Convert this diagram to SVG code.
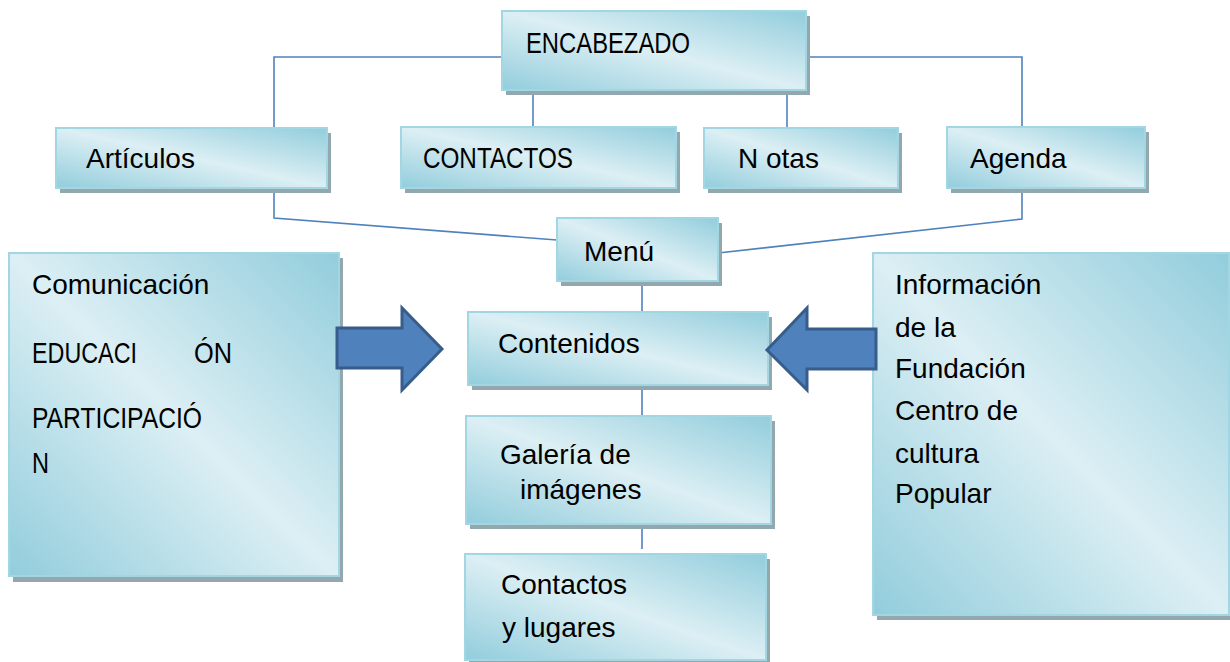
<svg xmlns="http://www.w3.org/2000/svg" width="1230" height="662" viewBox="0 0 1230 662">
<defs>
<linearGradient id="g" x1="1" y1="0" x2="0" y2="1">
<stop offset="0" stop-color="#92CDDC"/>
<stop offset="0.5" stop-color="#DCEFF4"/>
<stop offset="1" stop-color="#92CDDC"/>
</linearGradient>
<style>
.sh{fill:#93A7AE}
.bx{fill:url(#g);stroke:#A3D6E3;stroke-width:2}
.t{font-family:"Liberation Sans",Arial,sans-serif;font-size:28px;fill:#000}
.k{font-size:30px}
.c{fill:none;stroke:#4F81BD;stroke-width:1.6}
.ar{fill:#4F81BD;stroke:#385D8A;stroke-width:3;stroke-linejoin:miter}
</style>
</defs>
<rect width="1230" height="662" fill="#fff"/>
<g id="connectors">
<polyline class="c" points="502,57 274,57 274,128"/>
<polyline class="c" points="806,57 1022,57 1022,127"/>
<line class="c" x1="533" y1="90" x2="533" y2="127"/>
<line class="c" x1="787" y1="90" x2="787" y2="128"/>
<polyline class="c" points="274,188 274,218 557,240"/>
<polyline class="c" points="1022,188 1022,219 718,253"/>
<line class="c" x1="642" y1="281" x2="642" y2="312"/>
<line class="c" x1="642" y1="385" x2="642" y2="416"/>
<line class="c" x1="642" y1="524" x2="642" y2="549"/>
</g>
<g id="encabezado">
<rect class="sh" x="506" y="16" width="304" height="79"/>
<rect class="bx" x="502" y="11" width="304" height="79"/>
<text class="t k" x="526" y="53" textLength="164" lengthAdjust="spacingAndGlyphs">ENCABEZADO</text>
</g>
<g id="articulos">
<rect class="sh" x="60" y="133" width="271" height="60"/>
<rect class="bx" x="56" y="128" width="271" height="60"/>
<text class="t" x="86" y="168">Artículos</text>
</g>
<g id="contactos-top">
<rect class="sh" x="405" y="132" width="275" height="61"/>
<rect class="bx" x="401" y="127" width="275" height="61"/>
<text class="t k" x="423" y="168" textLength="150" lengthAdjust="spacingAndGlyphs">CONTACTOS</text>
</g>
<g id="notas">
<rect class="sh" x="708" y="133" width="194" height="60"/>
<rect class="bx" x="704" y="128" width="194" height="60"/>
<text class="t" x="738" y="168">N otas</text>
</g>
<g id="agenda">
<rect class="sh" x="951" y="132" width="198" height="61"/>
<rect class="bx" x="947" y="127" width="198" height="61"/>
<text class="t" x="970" y="168">Agenda</text>
</g>
<g id="menu">
<rect class="sh" x="561" y="223" width="161" height="63"/>
<rect class="bx" x="557" y="218" width="161" height="63"/>
<text class="t" x="584" y="261">Menú</text>
</g>
<g id="contenidos">
<rect class="sh" x="472" y="317" width="300" height="73"/>
<rect class="bx" x="468" y="312" width="300" height="73"/>
<text class="t" x="498" y="353">Contenidos</text>
</g>
<g id="galeria">
<rect class="sh" x="470" y="421" width="305" height="108"/>
<rect class="bx" x="466" y="416" width="305" height="108"/>
<text class="t" x="500" y="464">Galería de</text>
<text class="t" x="520" y="499">imágenes</text>
</g>
<g id="contactos-lugares">
<rect class="sh" x="469" y="559" width="301" height="106"/>
<rect class="bx" x="465" y="554" width="301" height="106"/>
<text class="t" x="501" y="594">Contactos</text>
<text class="t" x="502" y="637">y lugares</text>
</g>
<g id="comunicacion">
<rect class="sh" x="13" y="258" width="330" height="324"/>
<rect class="bx" x="9" y="253" width="330" height="323"/>
<text class="t" x="32" y="294">Comunicación</text>
<text class="t k" x="32" y="363" textLength="105" lengthAdjust="spacingAndGlyphs">EDUCACI</text>
<text class="t k" x="194" y="363" textLength="38" lengthAdjust="spacingAndGlyphs">ÓN</text>
<text class="t k" x="32" y="428" textLength="170" lengthAdjust="spacingAndGlyphs">PARTICIPACIÓ</text>
<text class="t k" x="32" y="473" textLength="17" lengthAdjust="spacingAndGlyphs">N</text>
</g>
<g id="informacion">
<rect class="sh" x="877" y="258" width="360" height="362"/>
<rect class="bx" x="873" y="253" width="356" height="362"/>
<text class="t" x="895" y="294">Información</text>
<text class="t" x="895" y="337">de la</text>
<text class="t" x="895" y="378">Fundación</text>
<text class="t" x="895" y="420">Centro de</text>
<text class="t" x="895" y="463">cultura</text>
<text class="t" x="895" y="503">Popular</text>
</g>
<g id="arrow-right">
<polygon class="ar" points="337,328 402,328 402,308 442,349 402,390 402,368 337,368"/>
</g>
<g id="arrow-left">
<polygon class="ar" points="876,329 807,329 807,308 767,350 807,390 807,369 876,369"/>
</g>
</svg>
